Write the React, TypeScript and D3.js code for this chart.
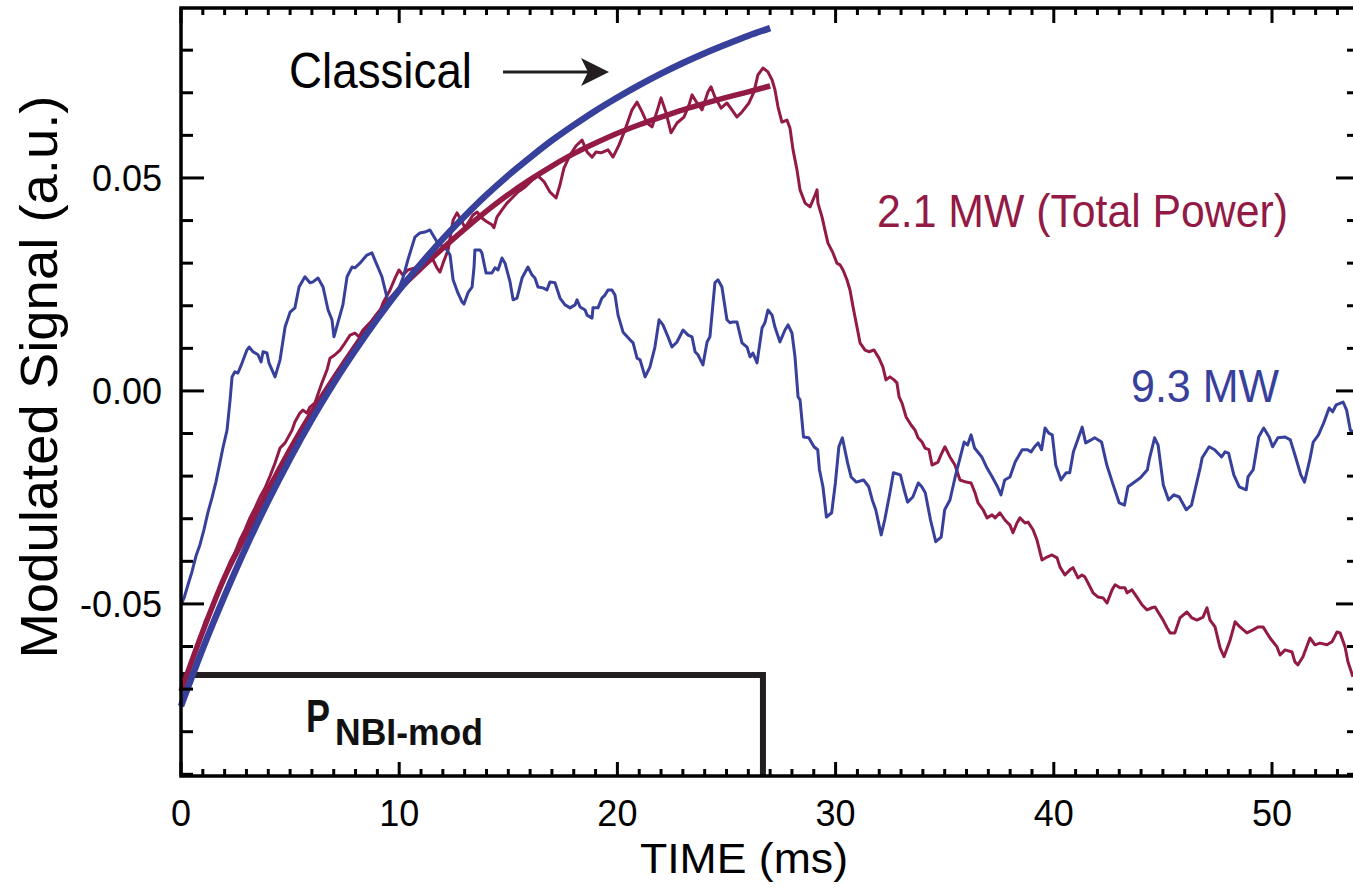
import React from "react";
import * as d3 from "d3";

// ---------- data ----------
const classicalTime = [0, 1, 2, 3, 4, 5, 6, 7, 8, 9, 10, 11, 12, 13, 14, 15, 16, 17, 18, 19, 20, 21, 22, 23, 24, 25, 26, 27];
const classicalSignal = [-0.074, -0.0605, -0.0481, -0.0365, -0.0258, -0.0159, -0.0067, 0.0018, 0.0096, 0.0169, 0.0237, 0.0299, 0.0357, 0.041, 0.046, 0.0506, 0.0548, 0.0588, 0.0624, 0.0658, 0.0689, 0.0718, 0.0745, 0.077, 0.0793, 0.0814, 0.0834, 0.0852];

const fitTime = [0, 1, 2, 3, 4, 5, 6, 7, 8, 9, 10, 11, 12, 13, 14, 15, 16, 17, 18, 19, 20, 21, 22, 23, 24, 25, 26, 27];
const fitSignal = [-0.0705, -0.0564, -0.0437, -0.0335, -0.0232, -0.0137, -0.005, 0.003, 0.0106, 0.0178, 0.0238, 0.0288, 0.0335, 0.038, 0.0422, 0.0461, 0.0496, 0.0528, 0.0557, 0.0582, 0.0605, 0.0625, 0.0643, 0.066, 0.0675, 0.0689, 0.0702, 0.0716];

const lowPowerTime = [0, 0.23, 0.41, 0.64, 0.87, 1.1, 1.33, 1.56, 1.79, 2.02, 2.25, 2.47, 2.7, 2.93, 3.16, 3.39, 3.62, 3.85, 4.08, 4.31, 4.54, 4.77, 5.09, 5.22, 5.45, 5.59, 5.77, 5.91, 6.14, 6.46, 6.69, 6.83, 7.06, 7.29, 7.52, 7.75, 7.97, 8.16, 8.34, 8.66, 8.98, 9.26, 9.58, 9.81, 9.99, 10.17, 10.4, 10.72, 11.09, 11.55, 11.73, 11.87, 12.01, 12.24, 12.47, 12.65, 12.88, 13.02, 13.24, 13.38, 13.57, 13.79, 14.02, 14.25, 14.34, 14.48, 14.71, 14.94, 15.17, 15.44, 15.77, 16.09, 16.36, 16.64, 16.91, 17.19, 17.37, 17.55, 17.83, 18.1, 18.38, 18.61, 18.84, 19.02, 19.25, 19.57, 19.8, 20.07, 20.35, 20.67, 20.9, 21.13, 21.36, 21.59, 21.86, 22.0, 22.23, 22.46, 22.73, 23.05, 23.28, 23.42, 23.65, 23.88, 24.15, 24.29, 24.47, 24.75, 25.02, 25.25, 25.48, 25.71, 26.03, 26.26, 26.44, 26.67, 26.9, 27.09, 27.22, 27.36, 27.54, 27.77, 27.91, 28.05, 28.23, 28.37, 28.6, 28.83, 29.06, 29.15, 29.19, 29.38, 29.51, 29.65, 29.88, 30.06, 30.2, 30.34, 30.52, 30.66, 30.8, 30.98, 31.12, 31.35, 31.53, 31.76, 31.99, 32.17, 32.31, 32.49, 32.68, 32.81, 32.91, 33.04, 33.23, 33.46, 33.64, 33.78, 33.96, 34.1, 34.28, 34.42, 34.69, 34.83, 35.01, 35.24, 35.47, 35.7, 35.98, 36.21, 36.39, 36.53, 36.76, 36.94, 37.17, 37.31, 37.53, 37.76, 37.99, 38.13, 38.31, 38.45, 38.68, 38.82, 39.05, 39.23, 39.46, 39.69, 39.92, 40.15, 40.28, 40.51, 40.74, 40.88, 41.11, 41.29, 41.43, 41.57, 41.8, 42.03, 42.26, 42.44, 42.67, 42.81, 43.03, 43.26, 43.36, 43.58, 43.81, 44.04, 44.27, 44.5, 44.64, 44.78, 45.01, 45.19, 45.33, 45.55, 45.78, 46.1, 46.33, 46.56, 46.84, 47.02, 47.16, 47.39, 47.62, 47.8, 48.08, 48.31, 48.53, 48.85, 49.13, 49.36, 49.59, 49.91, 50.23, 50.37, 50.6, 50.92, 51.05, 51.19, 51.42, 51.74, 51.97, 52.2, 52.52, 52.75, 52.98, 53.12, 53.35, 53.48, 53.71];
const lowPowerSignal = [-0.0702, -0.0669, -0.065, -0.0608, -0.0585, -0.0542, -0.0519, -0.0486, -0.0462, -0.0432, -0.0401, -0.038, -0.035, -0.0326, -0.0298, -0.0275, -0.0249, -0.0228, -0.02, -0.0169, -0.0134, -0.0122, -0.0092, -0.0073, -0.0052, -0.0045, -0.0052, -0.0038, -0.0028, 0.0019, 0.0049, 0.0077, 0.0085, 0.0096, 0.0113, 0.0131, 0.0136, 0.0127, 0.0143, 0.016, 0.0167, 0.0207, 0.0237, 0.0265, 0.0284, 0.0272, 0.0284, 0.0289, 0.03, 0.0308, 0.0289, 0.0279, 0.03, 0.0331, 0.0401, 0.0418, 0.0397, 0.0383, 0.0401, 0.0413, 0.042, 0.0406, 0.0397, 0.039, 0.0383, 0.0408, 0.0425, 0.0441, 0.0453, 0.0467, 0.0479, 0.0495, 0.0505, 0.0491, 0.0467, 0.0453, 0.0484, 0.0523, 0.0554, 0.0575, 0.0589, 0.0561, 0.0549, 0.0561, 0.0559, 0.0566, 0.0549, 0.0577, 0.0613, 0.066, 0.0678, 0.0655, 0.0629, 0.062, 0.0664, 0.0688, 0.0653, 0.0606, 0.0629, 0.0643, 0.0671, 0.0695, 0.0676, 0.066, 0.0702, 0.0714, 0.069, 0.0664, 0.0676, 0.066, 0.0643, 0.0655, 0.0676, 0.0702, 0.0742, 0.0758, 0.0749, 0.073, 0.0707, 0.0667, 0.0631, 0.0636, 0.0617, 0.0566, 0.0519, 0.0472, 0.0441, 0.0432, 0.046, 0.0472, 0.0441, 0.0408, 0.0378, 0.0347, 0.0324, 0.03, 0.0296, 0.0284, 0.0261, 0.0237, 0.0197, 0.015, 0.0113, 0.0096, 0.0092, 0.0096, 0.0077, 0.0056, 0.0026, 0.0033, 0.0026, 0.0019, -0.0014, -0.0028, -0.0061, -0.008, -0.0092, -0.011, -0.012, -0.0134, -0.0138, -0.0174, -0.0167, -0.015, -0.0131, -0.0155, -0.0174, -0.0209, -0.0214, -0.0216, -0.0239, -0.0263, -0.0279, -0.0298, -0.0291, -0.0298, -0.0286, -0.0303, -0.0315, -0.0333, -0.031, -0.0298, -0.031, -0.0308, -0.0326, -0.035, -0.0397, -0.039, -0.0385, -0.0392, -0.0413, -0.0432, -0.042, -0.0415, -0.0439, -0.0432, -0.0437, -0.0451, -0.0474, -0.0484, -0.0486, -0.0498, -0.0467, -0.0455, -0.0462, -0.0462, -0.0474, -0.0467, -0.0484, -0.0502, -0.0514, -0.0509, -0.0507, -0.0519, -0.0538, -0.0556, -0.0568, -0.0568, -0.0533, -0.0519, -0.0533, -0.0538, -0.0531, -0.0509, -0.0538, -0.0554, -0.0603, -0.0624, -0.0585, -0.0542, -0.0554, -0.0568, -0.0561, -0.0554, -0.0554, -0.058, -0.0601, -0.062, -0.0608, -0.0613, -0.0636, -0.0643, -0.0624, -0.058, -0.0596, -0.0592, -0.0596, -0.0589, -0.0566, -0.0568, -0.0601, -0.0636, -0.0671];

const highPowerTime = [0, 0.14, 0.32, 0.5, 0.69, 0.87, 1.05, 1.24, 1.42, 1.6, 1.79, 1.92, 2.11, 2.25, 2.34, 2.47, 2.61, 2.8, 3.02, 3.12, 3.3, 3.53, 3.67, 3.76, 3.94, 4.03, 4.31, 4.54, 4.77, 5.0, 5.22, 5.41, 5.68, 5.91, 6.05, 6.28, 6.51, 6.74, 6.92, 7.01, 7.2, 7.42, 7.61, 7.84, 7.97, 8.2, 8.52, 8.75, 8.98, 9.21, 9.49, 9.72, 9.95, 10.17, 10.4, 10.72, 10.95, 11.18, 11.41, 11.73, 12.19, 12.33, 12.47, 12.69, 12.88, 12.97, 13.15, 13.34, 13.43, 13.47, 13.7, 13.79, 13.98, 14.25, 14.39, 14.53, 14.71, 14.85, 15.08, 15.22, 15.4, 15.63, 15.9, 16.09, 16.22, 16.36, 16.59, 16.77, 16.91, 17.14, 17.37, 17.6, 17.83, 18.06, 18.15, 18.29, 18.52, 18.61, 18.84, 18.88, 19.11, 19.29, 19.43, 19.57, 19.75, 19.89, 20.03, 20.26, 20.58, 20.72, 20.9, 21.04, 21.27, 21.49, 21.72, 21.91, 22.09, 22.32, 22.5, 22.73, 23.01, 23.24, 23.42, 23.56, 23.69, 23.92, 24.11, 24.24, 24.47, 24.61, 24.79, 25.02, 25.16, 25.3, 25.48, 25.71, 25.94, 26.08, 26.21, 26.4, 26.63, 26.76, 26.9, 27.09, 27.22, 27.45, 27.68, 27.82, 28.0, 28.14, 28.28, 28.37, 28.53, 28.77, 29.01, 29.18, 29.26, 29.42, 29.58, 29.82, 29.99, 30.15, 30.31, 30.55, 30.71, 30.95, 31.28, 31.52, 31.68, 31.84, 32.09, 32.25, 32.49, 32.65, 32.97, 33.14, 33.3, 33.54, 33.79, 33.95, 34.11, 34.35, 34.59, 34.84, 35.0, 35.24, 35.48, 35.89, 36.05, 36.21, 36.37, 36.7, 36.94, 37.18, 37.42, 37.58, 37.75, 37.99, 38.23, 38.55, 38.8, 38.96, 39.12, 39.28, 39.44, 39.6, 39.77, 39.93, 40.09, 40.33, 40.57, 40.73, 40.9, 41.06, 41.3, 41.46, 41.71, 41.87, 42.19, 42.43, 42.68, 43.0, 43.24, 43.4, 43.64, 43.97, 44.29, 44.37, 44.62, 44.78, 45.02, 45.26, 45.5, 45.75, 46.07, 46.31, 46.72, 46.8, 47.12, 47.37, 47.69, 47.85, 48.01, 48.25, 48.5, 48.82, 48.9, 49.14, 49.39, 49.62, 49.87, 50.03, 50.27, 50.6, 50.84, 51.08, 51.32, 51.49, 51.73, 51.89, 52.13, 52.37, 52.62, 52.78, 52.94, 53.26, 53.42, 53.59, 53.71];
const highPowerSignal = [-0.0502, -0.0486, -0.0455, -0.0425, -0.0387, -0.0361, -0.0326, -0.0284, -0.0251, -0.0214, -0.0167, -0.0134, -0.0092, -0.0021, 0.0033, 0.0045, 0.0042, 0.0066, 0.0096, 0.0103, 0.0092, 0.0085, 0.0068, 0.0092, 0.0089, 0.0066, 0.0033, 0.0073, 0.015, 0.0185, 0.0195, 0.0244, 0.0268, 0.0254, 0.0256, 0.0265, 0.0244, 0.019, 0.0167, 0.0127, 0.0162, 0.0202, 0.0268, 0.0291, 0.0289, 0.03, 0.0319, 0.0324, 0.0296, 0.0268, 0.0209, 0.0214, 0.0237, 0.0265, 0.0308, 0.0361, 0.0371, 0.0373, 0.0378, 0.035, 0.0331, 0.0319, 0.0261, 0.023, 0.0209, 0.0204, 0.023, 0.0244, 0.0291, 0.0331, 0.0331, 0.0324, 0.0277, 0.0277, 0.0289, 0.0284, 0.0312, 0.03, 0.0256, 0.0214, 0.0218, 0.0265, 0.0291, 0.0272, 0.0265, 0.0244, 0.0242, 0.0237, 0.0256, 0.0254, 0.0218, 0.0202, 0.0195, 0.0202, 0.0214, 0.0197, 0.019, 0.0178, 0.0171, 0.0195, 0.0195, 0.0218, 0.0225, 0.0237, 0.0237, 0.0225, 0.0178, 0.0138, 0.012, 0.0113, 0.0077, 0.0073, 0.0033, 0.0056, 0.0103, 0.0167, 0.0155, 0.0127, 0.0103, 0.0115, 0.0143, 0.0131, 0.0127, 0.0092, 0.0085, 0.0061, 0.0115, 0.0127, 0.0254, 0.0261, 0.0244, 0.0167, 0.016, 0.0162, 0.0162, 0.0113, 0.0103, 0.008, 0.0089, 0.0066, 0.0148, 0.016, 0.019, 0.0178, 0.015, 0.0115, 0.0143, 0.0155, 0.0136, 0.008, -0.0014, -0.0021, -0.0108, -0.011, -0.0131, -0.0138, -0.0185, -0.0225, -0.0296, -0.0286, -0.0216, -0.0131, -0.011, -0.0169, -0.0202, -0.0214, -0.0209, -0.0225, -0.0256, -0.0279, -0.0338, -0.0303, -0.0239, -0.0192, -0.0197, -0.0232, -0.0261, -0.0249, -0.0216, -0.0225, -0.0239, -0.0303, -0.0354, -0.0343, -0.0279, -0.0256, -0.0202, -0.012, -0.0127, -0.0103, -0.0134, -0.0155, -0.0181, -0.0202, -0.0225, -0.0244, -0.0209, -0.0202, -0.0167, -0.0138, -0.0138, -0.0143, -0.0131, -0.0122, -0.0138, -0.0087, -0.0099, -0.0103, -0.0174, -0.0209, -0.0192, -0.0192, -0.0143, -0.012, -0.0085, -0.0122, -0.0115, -0.011, -0.012, -0.0174, -0.0214, -0.0263, -0.0268, -0.0225, -0.0216, -0.0204, -0.0185, -0.0162, -0.011, -0.0127, -0.0221, -0.0256, -0.0244, -0.0249, -0.0279, -0.0268, -0.0178, -0.0157, -0.0131, -0.0138, -0.0155, -0.0143, -0.0146, -0.0197, -0.0225, -0.0232, -0.0202, -0.0185, -0.0108, -0.0087, -0.0108, -0.0131, -0.011, -0.0108, -0.0115, -0.0155, -0.0197, -0.0214, -0.0162, -0.012, -0.0103, -0.0075, -0.004, -0.0049, -0.0033, -0.0026, -0.0045, -0.0092, -0.0096];

const pulseTime = [0, 26.67, 26.67];
const pulseSignal = [-0.0667, -0.0667, -0.0904];

const xMajorTicks = [0, 10, 20, 30, 40, 50];
const xTickLabels = ["0", "10", "20", "30", "40", "50"];
const yMajorTicks = [-0.05, 0, 0.05];
const yTickLabels = ["-0.05", "0.00", "0.05"];

// ---------- styling ----------
const RED = "#921a45";
const BLUE = "#37409b";
const FONT = "'Liberation Sans', Arial, Helvetica, sans-serif";

export default function App() {
  const left = 181, right = 1356, top = 8, bottom = 776;
  const x = d3.scaleLinear().domain([0, 53.85]).range([left, right]);
  const y = d3.scaleLinear().domain([-0.0904, 0.0899]).range([bottom, top]);

  const mk = (ts: number[], vs: number[], curve: d3.CurveFactory) =>
    d3
      .line<number>()
      .x((_, i) => x(ts[i]))
      .y((_, i) => y(vs[i]))
      .curve(curve)(ts) || "";

  const xMinor = d3.range(0, 54, 1).filter((v) => v % 10 !== 0);
  const yMinor = d3.range(-9, 9).map((k) => k / 100).filter((v) => Math.abs(v) > 1e-9 && Math.abs(Math.abs(v) - 0.05) > 1e-9);

  return (
    <div style={{ position: "absolute", left: 0, top: 0 }}>
      <svg width={1353} height={891} style={{ display: "block", background: "#fff" }}>
        <rect x={0} y={0} width={1353} height={891} fill="#fff" />

        {/* pulse */}
        <path d={mk(pulseTime, pulseSignal, d3.curveLinear)} fill="none" stroke="#231f20" strokeWidth={6} />

        {/* data */}
        <path d={mk(lowPowerTime, lowPowerSignal, d3.curveLinear)} fill="none" stroke={RED} strokeWidth={3} strokeLinejoin="round" />
        <path d={mk(highPowerTime, highPowerSignal, d3.curveLinear)} fill="none" stroke={BLUE} strokeWidth={3} strokeLinejoin="round" />
        <path d={mk(fitTime, fitSignal, d3.curveMonotoneX)} fill="none" stroke={RED} strokeWidth={5.5} />
        <path d={mk(classicalTime, classicalSignal, d3.curveMonotoneX)} fill="none" stroke={BLUE} strokeWidth={6.5} />

        {/* frame */}
        <rect x={left} y={top} width={right - left} height={bottom - top} fill="none" stroke="#000" strokeWidth={3.5} />

        {/* x ticks */}
        {xMinor.map((v) => (
          <g key={"xm" + v}>
            <line x1={x(v)} x2={x(v)} y1={bottom} y2={bottom - 7} stroke="#000" strokeWidth={3} />
            <line x1={x(v)} x2={x(v)} y1={top} y2={top + 7} stroke="#000" strokeWidth={3} />
          </g>
        ))}
        {xMajorTicks.map((v, i) => (
          <g key={"xM" + v}>
            <line x1={x(v)} x2={x(v)} y1={bottom} y2={bottom - 14} stroke="#000" strokeWidth={3} />
            <line x1={x(v)} x2={x(v)} y1={top} y2={top + 15} stroke="#000" strokeWidth={3} />
            <text x={x(v)} y={826} textAnchor="middle" fontFamily={FONT} fontSize={36} fill="#000">
              {xTickLabels[i]}
            </text>
          </g>
        ))}

        {/* y ticks */}
        {yMinor.map((v) => (
          <g key={"ym" + v}>
            <line x1={left} x2={left + 12} y1={y(v)} y2={y(v)} stroke="#000" strokeWidth={3} />
            <line x1={right} x2={right - 9} y1={y(v)} y2={y(v)} stroke="#000" strokeWidth={3} />
          </g>
        ))}
        {yMajorTicks.map((v, i) => (
          <g key={"yM" + v}>
            <line x1={left} x2={left + 23} y1={y(v)} y2={y(v)} stroke="#000" strokeWidth={3} />
            <line x1={right} x2={right - 20} y1={y(v)} y2={y(v)} stroke="#000" strokeWidth={3} />
            <text x={162} y={y(v) + 13} textAnchor="end" fontFamily={FONT} fontSize={36} fill="#000">
              {yTickLabels[i]}
            </text>
          </g>
        ))}

        {/* axis titles */}
        <text x={744} y={873} textAnchor="middle" fontFamily={FONT} fontSize={43} fill="#000" textLength={208} lengthAdjust="spacingAndGlyphs">
          TIME (ms)
        </text>
        <text
          transform="translate(57,377) rotate(-90)"
          textAnchor="middle"
          fontFamily={FONT}
          fontSize={51}
          fill="#000"
          textLength={563}
          lengthAdjust="spacingAndGlyphs"
        >
          Modulated Signal (a.u.)
        </text>

        {/* annotations */}
        <text x={289} y={88} fontFamily={FONT} fontSize={50} fill="#000" textLength={183} lengthAdjust="spacingAndGlyphs">
          Classical
        </text>
        <line x1={503} y1={72} x2={592} y2={72} stroke="#231f20" strokeWidth={3} />
        <path d="M609,72 L581,58 L588,72 L581,86 Z" fill="#231f20" />

        <text x={877} y={227} fontFamily={FONT} fontSize={46} fill={RED} textLength={411} lengthAdjust="spacingAndGlyphs">
          2.1 MW (Total Power)
        </text>
        <text x={1131} y={402} fontFamily={FONT} fontSize={46} fill={BLUE} textLength={148} lengthAdjust="spacingAndGlyphs">
          9.3 MW
        </text>

        <text x={306} y={732} fontFamily={FONT} fontSize={47} fontWeight="bold" fill="#111" textLength={24} lengthAdjust="spacingAndGlyphs">
          P
        </text>
        <text x={335} y={745} fontFamily={FONT} fontSize={36} fontWeight="bold" fill="#111" textLength={148} lengthAdjust="spacingAndGlyphs">
          NBI-mod
        </text>
      </svg>
    </div>
  );
}
